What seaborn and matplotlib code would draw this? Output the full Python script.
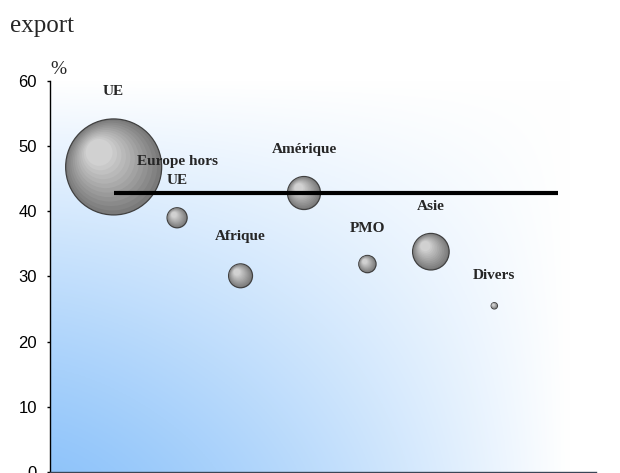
import numpy as np
import pandas as pd
import matplotlib
matplotlib.use("Agg")
import matplotlib.pyplot as plt
import seaborn as sns

# données
regions = ["UE", "Europe hors\nUE", "Afrique", "Amérique", "PMO", "Asie", "Divers"]
rang = [1, 2, 3, 4, 5, 6, 7]
taux_export = [46.8, 39.0, 30.1, 42.8, 31.9, 33.8, 25.5]
part_export = [71.1, 3.1, 4.4, 8.4, 2.3, 10.3, 0.3]
moyenne_x = [1, 8]
moyenne = 42.8
yticks = [0, 10, 20, 30, 40, 50, 60]

df = pd.DataFrame({"region": regions, "rang": rang, "taux": taux_export, "part": part_export})
df_moy = pd.DataFrame({"x": moyenne_x, "y": [moyenne, moyenne]})

sns.set_style("ticks")
plt.rcParams["font.family"] = ["Liberation Sans", "DejaVu Sans"]

DPI = 100
fig = plt.figure(figsize=(6.2, 4.73), dpi=DPI)
ax = fig.add_axes([0.081, 0.002, 0.88, 0.827])

# fond en dégradé bleu -> blanc (coin bas-gauche bleu)
u = np.linspace(0, 1, 300)
v = np.linspace(0, 1, 200)
U, V = np.meshgrid(u, v)
hx = np.clip(1 - np.clip(U / 0.95, 0, 1) ** 1.35, 0, 1)
hy = np.clip(1 - np.clip(V / 1.0, 0, 1) ** 1.15, 0, 1)
w = hx * hy
bleu = np.array([0.565, 0.77, 0.98])
img = 1 - w[..., None] * (1 - bleu)
ax.imshow(img, extent=[0, 8.6, 0, 60], origin="lower", aspect="auto", zorder=0)
ax.set_xlim(0, 8.6)
ax.set_ylim(0, 60)

# bulles avec un effet de relief (couches concentriques)
k = 67.2
s_base = df["part"].values * k
p0 = ax.transData.transform((0, 0))
p1 = ax.transData.transform((1, 1))
sx, sy = p1[0] - p0[0], p1[1] - p0[1]
r_px = np.sqrt(s_base) / 2 / 72 * DPI

n = 12
for i in range(n):
    f = 1 - 0.72 * i / (n - 1)
    g = 0.48 + 0.34 * i / (n - 1)
    shift = (1 - f) * 0.42 * r_px
    xs = df["rang"].values - shift / sx
    ys = df["taux"].values + shift / sy
    sns.scatterplot(
        x=xs, y=ys, s=s_base * f ** 2, color=(g, g, g),
        edgecolor="#404040" if i == 0 else "none",
        linewidth=0.9 if i == 0 else 0,
        legend=False, ax=ax, zorder=2 + i * 0.01,
    )

# ligne de moyenne
sns.lineplot(data=df_moy, x="x", y="y", color="black", linewidth=3,
             solid_capstyle="butt", ax=ax, zorder=5)

# étiquettes
for _, row in df.iterrows():
    r_pt = np.sqrt(row["part"] * k) / 2
    ax.annotate(row["region"], (row["rang"], row["taux"]),
                xytext=(0, r_pt + 15), textcoords="offset points",
                ha="center", va="bottom", fontsize=11, fontweight="bold",
                family=["Liberation Serif"], linespacing=1.55, zorder=6)

ax.set_yticks(yticks)
ax.set_xticks([])
ax.tick_params(axis="y", direction="out", length=2.5, width=1, labelsize=12, pad=7, colors="black")
for side in ["top", "right"]:
    ax.spines[side].set_visible(False)
for side in ["left", "bottom"]:
    ax.spines[side].set_color("black")
    ax.spines[side].set_linewidth(1)
ax.spines["bottom"].set_color("#3a4656")
ax.set_xlabel("")
ax.set_ylabel("")

ax.text(0.0, 1.008, "%", transform=ax.transAxes, fontsize=14,
        family=["Liberation Serif"], ha="left", va="bottom")
fig.text(0.016, 0.932, "export", fontsize=18, family=["Liberation Serif"],
         ha="left", va="baseline")

fig.savefig("out.png", dpi=DPI)
